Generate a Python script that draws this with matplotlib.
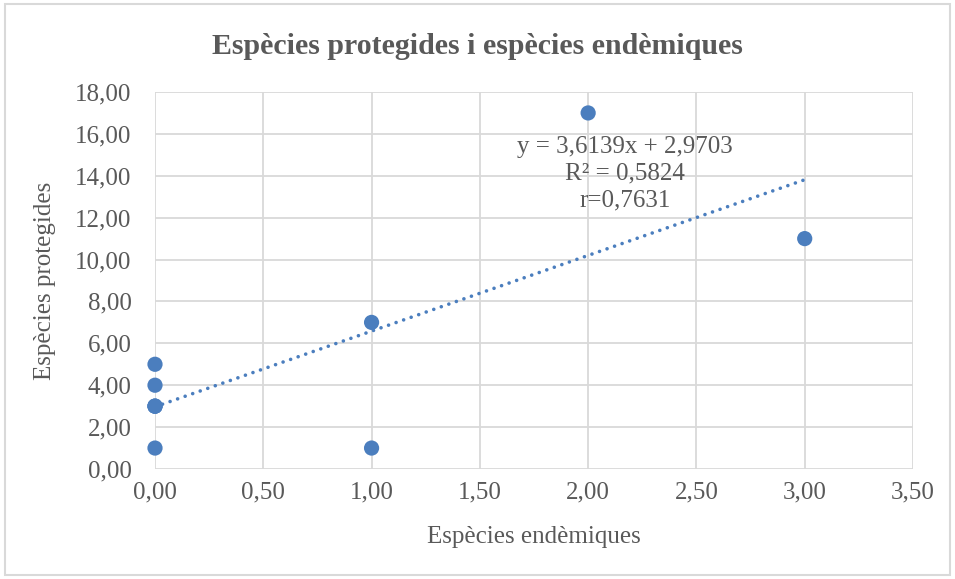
import matplotlib
matplotlib.use("Agg")
import matplotlib.pyplot as plt
import numpy as np
from matplotlib.ticker import FuncFormatter, MultipleLocator
from matplotlib.patches import Rectangle

endemiques = [0, 0, 0, 0, 0, 0, 1, 1, 2, 3]
protegides = [1, 3, 3, 3, 4, 5, 7, 1, 17, 11]

title = "Espècies protegides i espècies endèmiques"
xlabel = "Espècies endèmiques"
ylabel = "Espècies protegides"

plt.rcParams['font.family'] = ['Liberation Serif', 'DejaVu Serif']
grey = '#595959'
blue = '#4B7EBE'

fig = plt.figure(figsize=(9.55, 5.79), dpi=100)
ax = fig.add_axes([155/955, 1-469/579, (913-155)/955, (469-92)/579])

x = np.array(endemiques, float)
y = np.array(protegides, float)
slope, intercept = np.polyfit(x, y, 1)
r = np.corrcoef(x, y)[0, 1]
xs = np.array([x.min(), x.max()])
ax.plot(xs, slope*xs + intercept, linestyle=(0, (0.01, 2.2)), color=blue, lw=2.6,
        dash_capstyle='round', zorder=3)
ax.scatter(x, y, s=120, color=blue, zorder=4, edgecolors='none', clip_on=False)

ax.set_xlim(0, 3.5)
ax.set_ylim(0, 18)
ax.xaxis.set_major_locator(MultipleLocator(0.5))
ax.yaxis.set_major_locator(MultipleLocator(2))
fmt = FuncFormatter(lambda v, p: f"{v:.2f}".replace('.', ','))
ax.xaxis.set_major_formatter(fmt)
ax.yaxis.set_major_formatter(fmt)
ax.grid(True, color='#d9d9d9', lw=1.3)
ax.set_axisbelow(True)
for s in ax.spines.values():
    s.set_visible(False)
ax.tick_params(length=0, labelsize=18, labelcolor=grey)
ax.tick_params(axis='y', pad=17)
ax.tick_params(axis='x', pad=9)

ax.set_xlabel(xlabel, fontsize=18, color=grey, labelpad=16)
ax.set_ylabel(ylabel, fontsize=18, color=grey, labelpad=14)

fig.text(0.5, 1-46/579, title, ha='center', va='center', fontsize=21.5,
         fontweight='bold', color=grey)

lines = [f"y = {slope:.4f}x + {intercept:.4f}".replace('.', ','),
         f"R² = {r**2:.4f}".replace('.', ','),
         f"r={r:.4f}".replace('.', ',')]
for i, t in enumerate(lines):
    fig.text(625/955, 1-(147 + 26.5*i)/579, t, ha='center', va='center',
             fontsize=18, color=grey)

fig.add_artist(Rectangle((5/955, 4/579), 945/955, 571/579, transform=fig.transFigure,
                         fill=False, edgecolor='#d9d9d9', lw=1.5))

fig.savefig("out.png", dpi=100)
